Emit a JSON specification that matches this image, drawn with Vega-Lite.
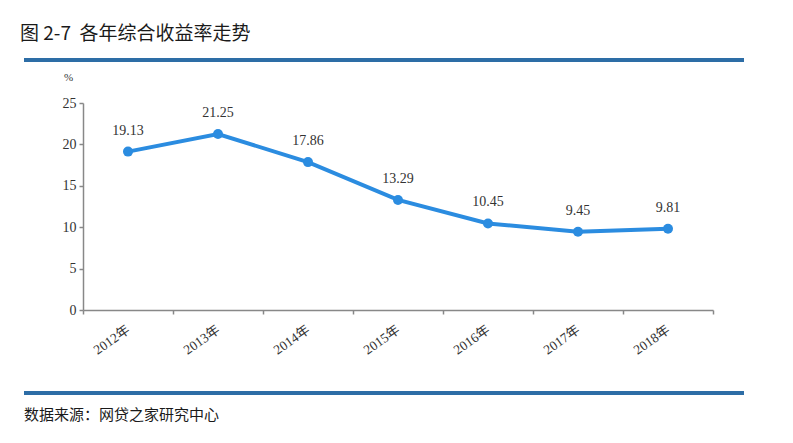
{
  "$schema": "https://vega.github.io/schema/vega-lite/v6.json",
  "background": "white",
  "padding": {"left": 19, "top": 25, "right": 10, "bottom": 5},
  "title": {"text": "图 2-7\u00a0\u00a0各年综合收益率走势", "anchor": "start", "font": "Noto Sans CJK SC", "fontSize": 19, "fontWeight": "normal", "color": "#1a1a1a", "offset": 10},
  "config": {"view": {"stroke": null}},
  "data": {"values": [
    {"year": "2012年", "rate": 19.13},
    {"year": "2013年", "rate": 21.25},
    {"year": "2014年", "rate": 17.86},
    {"year": "2015年", "rate": 13.29},
    {"year": "2016年", "rate": 10.45},
    {"year": "2017年", "rate": 9.45},
    {"year": "2018年", "rate": 9.81}
  ]},
  "spacing": 30,
  "vconcat": [
    {
      "spacing": 6,
      "vconcat": [
        {"width": 720, "height": 4, "view": {"fill": "#2d6da6", "stroke": null}, "mark": {"type": "text", "opacity": 0}, "encoding": {}},
        {
          "width": 720,
          "height": 207,
          "encoding": {
            "x": {"field": "year", "type": "nominal", "sort": null,
              "scale": {"range": [59, 689], "paddingInner": 0, "paddingOuter": 0},
              "axis": {"title": null, "tickBand": "extent", "tickSize": 4, "tickColor": "#888", "domainColor": "#888", "domainWidth": 1.5, "tickWidth": 1.5,
                "labelAngle": -35, "labelAlign": "right", "labelBaseline": "middle", "labelPadding": 14,
                "labelFont": "Liberation Serif, Noto Sans CJK SC", "labelFontSize": 13.5, "labelColor": "#333", "grid": false}},
            "y": {"field": "rate", "type": "quantitative", "scale": {"domain": [0, 25]},
              "axis": {"title": "%", "titleAngle": 0, "titleX": -15, "titleY": -26, "titleAlign": "center", "titleBaseline": "middle",
                "titleFont": "Liberation Serif", "titleFontSize": 11, "titleFontWeight": "normal", "titleColor": "#333",
                "offset": -59, "values": [0, 5, 10, 15, 20, 25], "grid": false, "tickSize": 4, "tickColor": "#888", "tickWidth": 1.5,
                "domainColor": "#888", "domainWidth": 1.5, "labelFont": "Liberation Serif", "labelFontSize": 14, "labelColor": "#333", "labelPadding": 3}}
          },
          "layer": [
            {"mark": {"type": "line", "color": "#2b8ce0", "strokeWidth": 4}},
            {"mark": {"type": "point", "filled": true, "size": 100, "color": "#2b8ce0", "opacity": 1}},
            {"mark": {"type": "text", "dy": -21, "font": "Liberation Serif", "fontSize": 14, "color": "#333"},
              "encoding": {"text": {"field": "rate", "type": "quantitative", "format": ".2f"}}}
          ]
        }
      ]
    },
    {"width": 720, "height": 4, "view": {"fill": "#2d6da6", "stroke": null}, "mark": {"type": "text", "opacity": 0}, "encoding": {},
      "title": {"text": "数据来源：网贷之家研究中心", "orient": "bottom", "anchor": "start", "font": "Noto Sans CJK SC", "fontSize": 15, "fontWeight": "normal", "color": "#1a1a1a", "offset": 10}}
  ]
}
